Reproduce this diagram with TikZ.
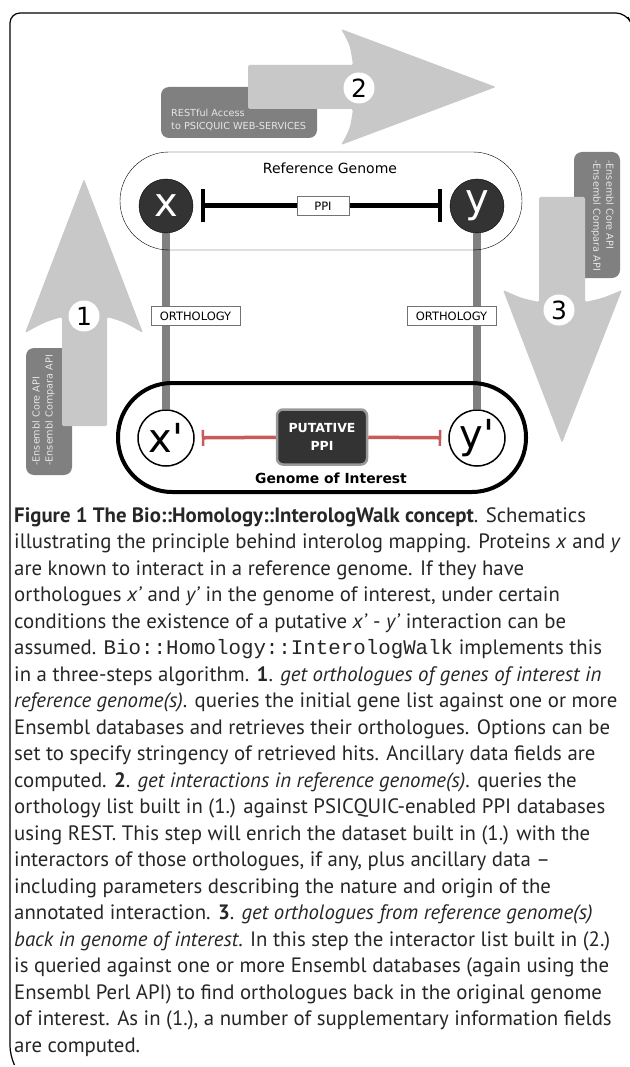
\documentclass[tikz,border=0pt]{standalone}
\usepackage{fontspec}
\setmainfont{PT Sans}
\setmonofont{Liberation Mono}
\newfontfamily\dejavu{DejaVu Sans}
\usetikzlibrary{arrows.meta,backgrounds,positioning}
\definecolor{bigarrow}{HTML}{C8C8C8}
\definecolor{apigray}{HTML}{808080}
\definecolor{apitxt}{HTML}{E6E6E6}
\definecolor{darkprot}{HTML}{333333}
\definecolor{putred}{HTML}{C85A5A}

\begin{document}
\begin{tikzpicture}[x=1pt,y=-1pt]
	  \tikzstyle{every node}=[font=\dejavu]
	  \tikzstyle{genome}=[draw=black,rounded corners=49pt,minimum width=402pt,minimum height=98pt,inner sep=0pt]
	  \tikzstyle{prot}=[circle,draw=black,minimum size=54pt,inner sep=0pt,font=\dejavu\fontsize{40}{40}\selectfont]
	  \tikzstyle{tag}=[draw=black!55,fill=white,line width=1pt,inner sep=3pt,minimum height=19pt,font=\dejavu\fontsize{11.5}{11.5}\selectfont]
	  \tikzstyle{apibox}=[fill=apigray,rounded corners=8pt,inner sep=0pt]
	  \tikzstyle{apitext}=[text=apitxt,align=left,inner sep=0pt,font=\dejavu\fontsize{9.7}{13}\selectfont]
	  \tikzstyle{num}=[circle,fill=white,minimum size=31pt,inner sep=0pt,font=\dejavu\fontsize{25}{25}\selectfont]
	  \tikzstyle{ortho}=[line width=8pt,draw=apigray]
	  \tikzstyle{caption}=[anchor=north west,align=left,inner sep=0pt,text=black!85,font=\fontsize{20.8}{26.5}\selectfont]

	  \useasboundingbox (0,0) rectangle (629,1067);

	  % frame
	  \draw[line width=1.2pt,rounded corners=10pt] (628,17) -- (626,13) -- (10,13) -- (10,1056) -- (14,1064);

	  % gray api boxes, behind the arrows
	  \node[apibox,minimum width=156pt,minimum height=51pt] (rest) at (239,112.5) {};
	  \node[apitext,anchor=west] (restT) at (171,119.5) {RESTful Access\\to PSICQUIC WEB-SERVICES};
	  \node[apibox,minimum width=46pt,minimum height=127pt] (ens1) at (49,411.5) {};
	  \node[apitext,rotate=90,anchor=north west] (ens1T) at (32,466) {-Ensembl Core API\\-Ensembl Compara API};
	  \node[apibox,minimum width=46pt,minimum height=126pt] (ens3) at (597,215) {};
	  \node[apitext,rotate=-90,anchor=north west] (ens3T) at (614,160) {-Ensembl Core API\\-Ensembl Compara API};

	  % big arrows
	  \fill[bigarrow,rounded corners=1.5pt] (248,65) -- (353,65) .. controls (350,45) .. (341,29) -- (496,87) -- (341,145) .. controls (350,129) .. (353,109) -- (248,109) -- cycle;
	  \fill[bigarrow,rounded corners=1.5pt] (62,426) -- (62,317) .. controls (45,322) .. (25,333) -- (84,179) -- (143,333) .. controls (124,322) .. (107,317) -- (107,426) -- cycle;
	  \fill[bigarrow,rounded corners=1.5pt] (539,197) -- (585,197) -- (585,302) .. controls (603,298) .. (622,290) -- (562,443) -- (503,290) .. controls (521,298) .. (539,302) -- cycle;

	  \node[num] (n2) at (359,88) {2};
	  \node[num] (n1) at (84,316) {1};
	  \node[num] (n3) at (559,310) {3};

	  % genomes
	  \node[genome] (refgen) at (321,201) {};
	  \node[font=\dejavu\fontsize{14}{14}\selectfont] (reflab) at (330,168) {Reference Genome};
	  \node[genome,line width=4pt,minimum width=408pt,minimum height=109pt,rounded corners=54pt] (intgen) at (322,437.5) {};
	  \node[font=\dejavu\bfseries\fontsize{13.9}{13.9}\selectfont] (intlab) at (331,478) {Genome of Interest};

	  % proteins
	  \node[prot,fill=darkprot,text=white] (X) at (166,206) {x};
	  \node[prot,fill=darkprot,text=white] (Y) at (477,206) {y};
	  \node[prot,fill=white,line width=1.5pt,minimum size=56pt] (Xp) at (166,438) {x\textquotesingle};
	  \node[prot,fill=white,line width=1.5pt,minimum size=56pt] (Yp) at (477,438) {y\textquotesingle};

	  \begin{scope}[on background layer]
	    \draw[ortho] (X) -- (Xp);
	    \draw[ortho] (Y) -- (Yp);
	  \end{scope}

	  \draw[line width=5pt,{Bar[width=33pt,line width=4pt]}-{Bar[width=33pt,line width=4pt]},shorten <=8pt,shorten >=8pt] (X) -- (Y);
	  \node[tag,minimum width=52pt] (ppi) at (323,206) {PPI};
	  \node[tag,minimum width=89pt] (orthL) at (195.5,316) {ORTHOLOGY};
	  \node[tag,minimum width=89pt] (orthR) at (451.5,316) {ORTHOLOGY};

	  \node[fill=darkprot,draw=black!40,line width=2.5pt,rounded corners=6pt,minimum width=90pt,minimum height=55pt,text=white,align=center,font=\dejavu\bfseries\fontsize{12.5}{18}\selectfont] (put) at (322,437) {PUTATIVE\\PPI};
	  \draw[putred,line width=3.5pt,{Bar[width=16pt,line width=2.5pt]}-,shorten <=7pt] (Xp) -- (put);
	  \draw[putred,line width=3.5pt,{Bar[width=16pt,line width=2.5pt]}-,shorten <=7pt] (Yp) -- (put);

	  % caption
	  \node[caption] (cap) at (14,507) {\textbf{Figure 1 The Bio::Homology::InterologWalk concept}. Schematics\\
	  illustrating the principle behind interolog mapping. Proteins \textit{x} and \textit{y}\\
	  are known to interact in a reference genome. If they have\\
	  orthologues \textit{x'} and \textit{y'} in the genome of interest, under certain\\
	  conditions the existence of a putative \textit{x'} - \textit{y'} interaction can be\\
	  assumed. \texttt{Bio::Homology::InterologWalk} implements this\\
	  in a three-steps algorithm. \textbf{1}. \textit{get orthologues of genes of interest in}\\
	  \textit{reference genome(s)}. queries the initial gene list against one or more\\
	  Ensembl databases and retrieves their orthologues. Options can be\\
	  set to specify stringency of retrieved hits. Ancillary data fields are\\
	  computed. \textbf{2}. \textit{get interactions in reference genome(s)}. queries the\\
	  orthology list built in (1.) against PSICQUIC-enabled PPI databases\\
	  using REST. This step will enrich the dataset built in (1.) with the\\
	  interactors of those orthologues, if any, plus ancillary data --\\
	  including parameters describing the nature and origin of the\\
	  annotated interaction. \textbf{3}. \textit{get orthologues from reference genome(s)}\\
	  \textit{back in genome of interest}. In this step the interactor list built in (2.)\\
	  is queried against one or more Ensembl databases (again using the\\
	  Ensembl Perl API) to find orthologues back in the original genome\\
	  of interest. As in (1.), a number of supplementary information fields\\
	  are computed.};
	\end{tikzpicture}
\end{document}
